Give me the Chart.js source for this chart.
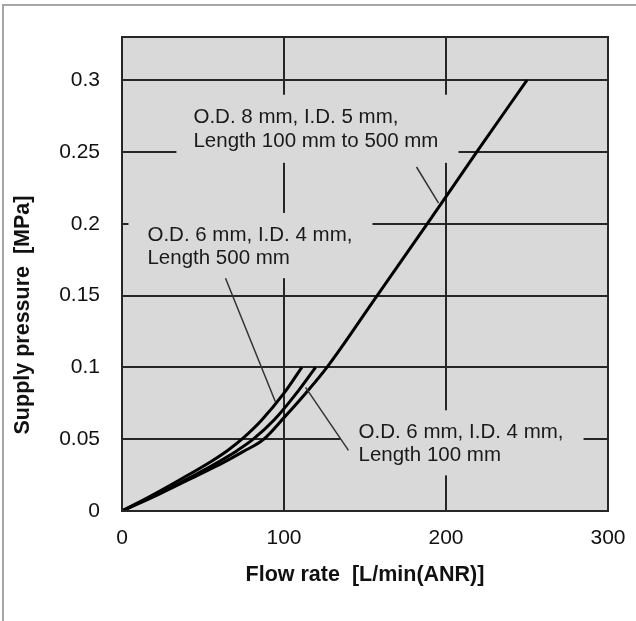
<!DOCTYPE html>
<html>
<head>
<meta charset="utf-8">
<title>Supply pressure vs flow rate</title>
<script src="https://cdn.jsdelivr.net/npm/chart.js@4.4.1/dist/chart.umd.min.js"></script>
<style>
  html, body { margin: 0; padding: 0; background: #fff; }
  #chart { display: block; }
</style>
</head>
<body>
<canvas id="chart" width="636" height="621"></canvas>
<script>
// Values: flow rate [L/min(ANR)] against supply pressure [MPa]
const flowOd6Len500 = [0, 20, 40, 55, 65, 74, 86, 100, 111];
const pressureOd6Len500 = [0, 0.0118, 0.0245, 0.0345, 0.042, 0.05, 0.063, 0.082, 0.1];

const flowOd6Len100 = [0, 22, 44, 60, 71, 81, 94, 107, 119.5];
const pressureOd6Len100 = [0, 0.0118, 0.0245, 0.0345, 0.042, 0.05, 0.0635, 0.081, 0.1];

const flowOd8 = [0, 23, 46, 63, 75, 87, 100, 113, 126.5, 157.5, 188.5, 219, 250];
const pressureOd8 = [0, 0.0118, 0.0245, 0.034, 0.0415, 0.0495, 0.065, 0.0815, 0.1, 0.15, 0.2, 0.25, 0.3];

const xTicks = [0, 100, 200, 300];
const yTicks = [0, 0.05, 0.1, 0.15, 0.2, 0.25, 0.3];

const xTitle = 'Flow rate  [L/min(ANR)]';
const yTitle = 'Supply pressure  [MPa]';

// callouts, placed in data units (flow, pressure)
const callouts = [
  {
    lines: ['O.D. 8 mm, I.D. 5 mm,', 'Length 100 mm to 500 mm'],
    box: { x0: 33.6, x1: 207.7, y0: 0.2424, y1: 0.2898 },
    text: { x: 44.1, y: [0.2741, 0.2573] },
    leader: [[181.8, 0.2395], [195.4, 0.2144]]
  },
  {
    lines: ['O.D. 6 mm, I.D. 4 mm,', 'Length 500 mm'],
    box: { x0: 4.0, x1: 154.6, y0: 0.1621, y1: 0.2075 },
    text: { x: 15.7, y: [0.1921, 0.1761] },
    leader: [[63.9, 0.1621], [94.8, 0.0757]]
  },
  {
    lines: ['O.D. 6 mm, I.D. 4 mm,', 'Length 100 mm'],
    box: { x0: 134.9, x1: 284.9, y0: 0.0248, y1: 0.0701 },
    text: { x: 146, y: [0.0547, 0.0387] },
    leader: [[139.8, 0.0422], [113.3, 0.0861]]
  }
];

const FONT = "'Liberation Sans', Arial, sans-serif";
const PLOT_BG = '#d9d9d9';
const GRID = '#262626';

function toPoints(xs, ys) {
  return xs.map((x, i) => ({ x: x, y: ys[i] }));
}

function curve(xs, ys) {
  return {
    data: toPoints(xs, ys),
    showLine: true,
    borderColor: '#000',
    borderWidth: 3,
    pointRadius: 0,
    cubicInterpolationMode: 'monotone',
    fill: false
  };
}

const decorations = {
  id: 'decorations',
  beforeDraw(chart) {
    const { ctx, chartArea: a } = chart;
    ctx.save();
    // thin grey frame round the figure
    ctx.strokeStyle = '#a6a6a6';
    ctx.lineWidth = 2;
    ctx.beginPath();
    ctx.moveTo(3, 621);
    ctx.lineTo(3, 5);
    ctx.lineTo(636, 5);
    ctx.stroke();
    // plot background
    ctx.fillStyle = PLOT_BG;
    ctx.fillRect(a.left, a.top, a.right - a.left, a.bottom - a.top);
    ctx.restore();
  },
  beforeDatasetsDraw(chart) {
    // callout boxes hide the grid behind the text
    const { ctx, scales: { x, y } } = chart;
    ctx.save();
    ctx.fillStyle = PLOT_BG;
    callouts.forEach(c => {
      const left = x.getPixelForValue(c.box.x0);
      const right = x.getPixelForValue(c.box.x1);
      const top = y.getPixelForValue(c.box.y1);
      const bottom = y.getPixelForValue(c.box.y0);
      ctx.fillRect(left, top, right - left, bottom - top);
    });
    ctx.restore();
  },
  afterDatasetsDraw(chart) {
    const { ctx, chartArea: a, scales: { x, y } } = chart;
    ctx.save();

    // leader lines
    ctx.strokeStyle = '#333';
    ctx.lineWidth = 1.5;
    callouts.forEach(c => {
      ctx.beginPath();
      ctx.moveTo(x.getPixelForValue(c.leader[0][0]), y.getPixelForValue(c.leader[0][1]));
      ctx.lineTo(x.getPixelForValue(c.leader[1][0]), y.getPixelForValue(c.leader[1][1]));
      ctx.stroke();
    });

    // callout text
    ctx.fillStyle = '#1a1a1a';
    ctx.font = '20.5px ' + FONT;
    ctx.textAlign = 'left';
    ctx.textBaseline = 'middle';
    callouts.forEach(c => {
      c.lines.forEach((line, i) => {
        ctx.fillText(line, x.getPixelForValue(c.text.x), y.getPixelForValue(c.text.y[i]));
      });
    });

    // plot frame
    ctx.strokeStyle = GRID;
    ctx.lineWidth = 2;
    ctx.strokeRect(a.left, a.top, a.right - a.left, a.bottom - a.top);

    // y axis title, sits lower than the plot centre in the reference
    ctx.translate(23, 315);
    ctx.rotate(-Math.PI / 2);
    ctx.font = 'bold 21.5px ' + FONT;
    ctx.textAlign = 'center';
    ctx.fillStyle = '#111';
    ctx.fillText(yTitle, 0, 0);
    ctx.restore();
  }
};

new Chart(document.getElementById('chart'), {
  type: 'scatter',
  data: {
    datasets: [
      curve(flowOd6Len500, pressureOd6Len500),
      curve(flowOd6Len100, pressureOd6Len100),
      curve(flowOd8, pressureOd8)
    ]
  },
  options: {
    responsive: false,
    animation: false,
    layout: { padding: { left: 0, top: 37, right: 28, bottom: 0 } },
    plugins: {
      legend: { display: false },
      tooltip: { enabled: false }
    },
    scales: {
      x: {
        type: 'linear',
        min: 0,
        max: 300,
        afterBuildTicks: s => { s.ticks = xTicks.map(v => ({ value: v })); },
        afterFit: s => {
          s.height = 110;
          // keep the end labels from pushing the plot area in
          s.paddingLeft = 0;
          s.paddingRight = 0;
        },
        grid: { color: GRID, lineWidth: 2, drawTicks: false },
        border: { color: GRID, width: 2 },
        ticks: {
          color: '#111',
          font: { family: FONT, size: 21 },
          padding: 15,
          maxRotation: 0,
          callback: v => String(v)
        },
        title: {
          display: true,
          text: xTitle,
          color: '#111',
          font: { family: FONT, size: 21.5, weight: 'bold' },
          padding: { top: 0, bottom: 33 }
        }
      },
      y: {
        type: 'linear',
        min: 0,
        max: 0.33,
        afterBuildTicks: s => { s.ticks = yTicks.map(v => ({ value: v })); },
        afterFit: s => {
          s.width = 122;
          s.paddingTop = 0;
          s.paddingBottom = 0;
        },
        grid: { color: GRID, lineWidth: 2, drawTicks: false },
        border: { color: GRID, width: 2 },
        ticks: {
          color: '#111',
          font: { family: FONT, size: 21 },
          padding: 22,
          callback: v => String(v)
        }
      }
    }
  },
  plugins: [decorations]
});
</script>
</body>
</html>
